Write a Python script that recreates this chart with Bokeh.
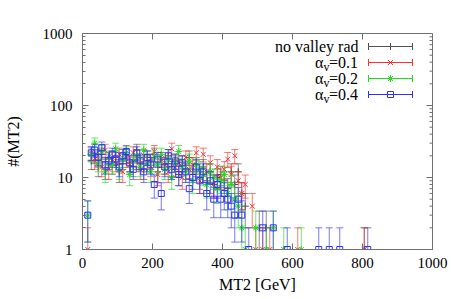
import math
from bokeh.plotting import figure
from bokeh.models import (Range1d, LogAxis, LinearAxis, FixedTicker,
                          LinearScale, ColumnDataSource, PrintfTickFormatter)
from bokeh.embed import file_html
from bokeh.resources import INLINE
from bokeh.core.properties import value

# ---------------- data (bin centres in GeV, counts per 10 GeV bin) ----------------
bins = [25, 35, 45, 55, 65, 75, 85, 95, 105, 115, 125, 135, 145, 155, 165, 175,
        185, 195, 205, 215, 225, 235, 245, 255, 265, 275, 285, 295, 305, 315,
        325, 335, 345, 355, 365, 375, 385, 395, 405, 415, 425, 435, 445, 455]

black_x = bins + [465, 505, 525, 805]
black_y = [17, 20, 14, 21, 13, 18, 15, 19, 12, 17, 20, 16, 14, 24, 16, 13,
           19, 17, 21, 12, 18, 15, 20, 14, 17, 11, 16, 13, 19, 12,
           15, 10, 14, 9, 12, 8, 10, 11, 9, 7, 12, 8, 12, 6] + [4, 2, 2, 1]

red_x = [15] + bins + [465, 485, 495, 515, 535, 615, 805]
red_y = [1] + [22, 17, 20, 14, 24, 13, 19, 16, 21, 12, 18, 15, 22, 17, 13, 20,
               16, 14, 23, 11, 18, 15, 12, 25, 14, 16, 10, 19, 13, 15,
               22, 9, 21, 12, 16, 8, 14, 10, 13, 18, 11, 20, 9, 6] + [8, 4, 1, 1, 1, 1, 1]

green_x = [15] + bins + [465, 495, 525, 545, 575, 625]
green_y = [3] + [21, 30, 16, 23, 12, 19, 15, 25, 13, 18, 22, 11, 17, 20, 14, 24,
                 16, 12, 19, 15, 21, 13, 18, 10, 16, 23, 14, 12, 17, 9,
                 15, 13, 11, 8, 12, 10, 7, 9, 11, 6, 8, 5, 4, 2] + [1, 2, 1, 2, 1, 1]

blue_x = [15] + bins + [475, 515, 545, 585, 675, 705, 735, 815]
blue_y = [3] + [22, 24, 19, 26, 15, 17, 21, 18, 14, 20, 23, 16, 13, 22, 17, 12,
                19, 15, 8, 18, 6, 14, 20, 13, 17, 11, 16, 12, 7, 10,
                14, 9, 12, 6, 9, 5, 8, 5, 6, 5, 4, 3, 5, 3] + [1, 2, 2, 1, 1, 1, 1, 1]

series_names = ["no valley rad", "0.1", "0.2", "0.4"]
x_ticks = [0, 200, 400, 600, 800, 1000]
y_major = [1, 10, 100, 1000]
y_minor = [m * d for d in (1, 10, 100) for m in range(2, 10)]

# ---------------- styles ----------------
SERIF = "Liberation Serif"
colors = ["#505050", "#ff3030", "#20dd20", "#3030ff"]
markers = ["cross", "x", "asterisk", "square"]
AX = "#707070"
FW, FH = 350, 216   # frame size in px

p = figure(width=451, height=299, output_backend="svg", toolbar_location=None,
           x_range=Range1d(0, 1000), y_range=Range1d(1, 1000), y_axis_type="log",
           x_axis_location=None, y_axis_location=None,
           min_border_left=82, min_border_right=19, min_border_top=33, min_border_bottom=50)
p.grid.visible = False
p.outline_line_color = AX
p.outline_line_width = 1
p.background_fill_color = "white"

p.extra_x_ranges = {"px": Range1d(0, FW)}
p.extra_y_ranges = {"py": Range1d(0, FH)}
p.extra_x_scales = {"px": LinearScale()}
p.extra_y_scales = {"py": LinearScale()}


def style_axis(ax):
    ax.axis_line_color = AX
    ax.major_tick_line_color = AX
    ax.minor_tick_line_color = AX
    ax.major_tick_in = 6
    ax.major_tick_out = 0
    ax.minor_tick_in = 3
    ax.minor_tick_out = 0
    ax.major_label_text_font = SERIF
    ax.major_label_text_font_size = "15px"
    ax.major_label_text_color = "black"
    ax.axis_label_text_font = SERIF
    ax.axis_label_text_font_size = "16px"
    ax.axis_label_text_font_style = "normal"
    ax.axis_label_text_color = "black"


xb = LinearAxis(ticker=FixedTicker(ticks=x_ticks), axis_label="MT2 [GeV]")
style_axis(xb)
xb.minor_tick_line_color = None
xb.major_label_standoff = 8
xb.axis_label_standoff = 5
yl = LogAxis(ticker=FixedTicker(ticks=y_major, minor_ticks=y_minor), axis_label="#(MT2)",
             formatter=PrintfTickFormatter(format="%d"))
style_axis(yl)
yl.major_label_standoff = 10
yl.axis_label_standoff = 18
p.add_layout(xb, "below")
p.add_layout(yl, "left")

# mirrored ticks on top and right border (gnuplot style)
p.segment(x0=x_ticks, y0=[FH] * len(x_ticks), x1=x_ticks, y1=[FH - 6] * len(x_ticks),
          line_color=AX, y_range_name="py")
p.segment(x0=[FW] * len(y_major), y0=y_major, x1=[FW - 6] * len(y_major), y1=y_major,
          line_color=AX, x_range_name="px")
p.segment(x0=[FW] * len(y_minor), y0=y_minor, x1=[FW - 3] * len(y_minor), y1=y_minor,
          line_color=AX, x_range_name="px")

# ---------------- error bars + markers ----------------
all_x = [black_x, red_x, green_x, blue_x]
all_y = [black_y, red_y, green_y, blue_y]
for xs, ys, c, m in zip(all_x, all_y, colors, markers):
    err = [math.sqrt(v) for v in ys]
    lo = [v - e if v - e > 0 else 0.01 for v, e in zip(ys, err)]
    hi = [v + e for v, e in zip(ys, err)]
    src = ColumnDataSource(dict(x=xs, y=ys, lo=lo, hi=hi))
    p.segment(x0="x", y0="lo", x1="x", y1="hi", source=src, line_color=c,
              line_width=1, line_alpha=0.65)
    p.scatter(x="x", y="lo", source=src, marker="dash", size=7, line_color=c, line_alpha=0.65)
    p.scatter(x="x", y="hi", source=src, marker="dash", size=7, line_color=c, line_alpha=0.65)
    p.scatter(x="x", y="y", source=src, marker=m, size=7 if m != "square" else 6,
              line_color=c, fill_color=None, line_width=1)

# ---------------- key (gnuplot style: text left, sample right) ----------------
row_y = [203, 187, 171, 155]
for i, (name, c, m) in enumerate(zip(series_names, colors, markers)):
    ry = row_y[i]
    p.segment(x0=[286], y0=[ry], x1=[330], y1=[ry], line_color=c, line_width=1,
              x_range_name="px", y_range_name="py")
    p.scatter(x=[286, 330], y=[ry, ry], marker="dash", angle=math.pi / 2, size=7,
              line_color=c, x_range_name="px", y_range_name="py")
    p.scatter(x=[308], y=[ry], marker=m, size=7 if m != "square" else 6,
              line_color=c, fill_color=None, x_range_name="px", y_range_name="py")
    if i == 0:
        p.text(x=[276], y=[ry], text=[name], text_align="right", text_baseline="middle",
               text_font=value(SERIF), text_font_size="16px", text_color="black",
               x_range_name="px", y_range_name="py")
    else:
        p.text(x=[241], y=[ry], text=["α"], text_align="right", text_baseline="middle",
               text_font=value(SERIF), text_font_size="16px", text_color="black",
               x_range_name="px", y_range_name="py")
        p.text(x=[241], y=[ry - 4], text=["v"], text_align="left", text_baseline="middle",
               text_font=value(SERIF), text_font_size="12px", text_color="black",
               x_range_name="px", y_range_name="py")
        p.text(x=[246.5], y=[ry], text=["=" + name], text_align="left", text_baseline="middle",
               text_font=value(SERIF), text_font_size="16px", text_color="black",
               x_range_name="px", y_range_name="py")

open("out.html", "w").write(file_html(p, INLINE))
